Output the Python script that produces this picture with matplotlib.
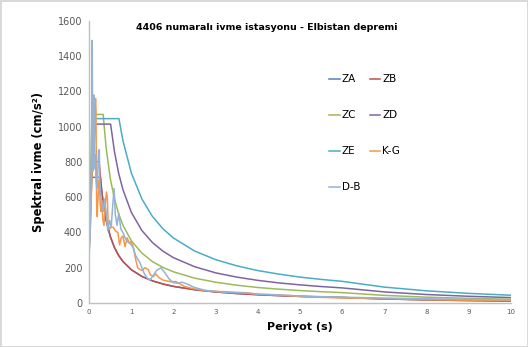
import matplotlib
matplotlib.use("Agg")
import matplotlib.pyplot as plt

# Design spectra (periods in s, spectral acceleration in cm/s^2)
za_T = [0.0, 0.053, 0.264, 0.3, 0.35, 0.4, 0.5, 0.6, 0.7, 0.8, 1.0, 1.25, 1.5, 1.75, 2.0, 2.5, 3.0, 3.5, 4.0, 4.5, 5.0, 5.5, 6.0, 7.0, 8.0, 9.0, 10.0]
za_v = [285, 713, 713, 628, 538, 471, 377, 314, 269, 235.5, 188.4, 150.7, 125.6, 107.7, 94.2, 75.4, 62.8, 53.8, 47.1, 41.9, 37.7, 34.3, 31.4, 23.1, 17.7, 13.95, 11.3]

zb_T = [0.0, 0.047, 0.235, 0.3, 0.35, 0.4, 0.5, 0.6, 0.7, 0.8, 1.0, 1.25, 1.5, 1.75, 2.0, 2.5, 3.0, 3.5, 4.0, 4.5, 5.0, 5.5, 6.0, 7.0, 8.0, 9.0, 10.0]
zb_v = [321, 802, 802, 628, 538, 471, 377, 314, 269, 235.5, 188.4, 150.7, 125.6, 107.7, 94.2, 75.4, 62.8, 53.8, 47.1, 41.9, 37.7, 34.3, 31.4, 23.1, 17.7, 13.95, 11.3]

zc_T = [0.0, 0.066, 0.33, 0.4, 0.5, 0.6, 0.7, 0.8, 1.0, 1.25, 1.5, 1.75, 2.0, 2.5, 3.0, 3.5, 4.0, 4.5, 5.0, 5.5, 6.0, 7.0, 8.0, 9.0, 10.0]
zc_v = [428, 1070, 1070, 883, 706, 589, 505, 441, 353, 283, 235, 202, 177, 141, 118, 101, 88, 78.5, 70.6, 64.2, 58.9, 43.3, 33.1, 26.2, 21.2]

zd_T = [0.0, 0.101, 0.507, 0.6, 0.7, 0.8, 1.0, 1.25, 1.5, 1.75, 2.0, 2.5, 3.0, 3.5, 4.0, 4.5, 5.0, 5.5, 6.0, 7.0, 8.0, 9.0, 10.0]
zd_v = [406, 1015, 1015, 857, 734, 643, 514, 411, 343, 294, 257, 206, 171, 147, 128.5, 114, 103, 93.5, 85.7, 62.9, 48.2, 38.1, 30.8]

ze_T = [0.0, 0.141, 0.705, 0.8, 1.0, 1.25, 1.5, 1.75, 2.0, 2.5, 3.0, 3.5, 4.0, 4.5, 5.0, 5.5, 6.0, 7.0, 8.0, 9.0, 10.0]
ze_v = [418, 1046, 1046, 921, 737, 590, 491, 421, 368.5, 295, 246, 211, 184, 164, 147, 134, 123, 90.2, 69.1, 54.6, 44.2]

# Recorded spectra
kg_T = [0.00, 0.02, 0.04, 0.06, 0.08, 0.10, 0.12, 0.14, 0.15, 0.16, 0.17, 0.18, 0.19, 0.20, 0.22, 0.24, 0.26, 0.28, 0.30, 0.32, 0.35, 0.38, 0.41, 0.43, 0.45, 0.48, 0.52, 0.57, 0.62, 0.68, 0.72, 0.76, 0.80, 0.85, 0.90, 0.95, 1.00, 1.05, 1.10, 1.15, 1.20, 1.25, 1.32, 1.40, 1.45, 1.52, 1.58, 1.65, 1.75, 1.85, 1.95, 2.05, 2.15, 2.25, 2.35, 2.5, 2.75, 3.0, 3.25, 3.5, 3.75, 4.0, 4.25, 4.5, 4.75, 5.0, 5.5, 6.0, 7.0, 8.0, 9.0, 10.0]
kg_v = [340, 380, 520, 700, 800, 820, 900, 1120, 1160, 1100, 700, 520, 490, 560, 640, 700, 560, 520, 580, 480, 440, 560, 630, 590, 440, 420, 430, 430, 410, 400, 330, 370, 380, 320, 370, 340, 350, 310, 250, 200, 190, 185, 200, 190, 160, 150, 165, 145, 130, 125, 120, 122, 110, 95, 88, 80, 70, 66, 64, 60, 58, 50, 48, 46, 42, 36, 32, 29, 24, 19, 16, 14]

db_T = [0.00, 0.02, 0.04, 0.06, 0.07, 0.08, 0.09, 0.10, 0.11, 0.12, 0.13, 0.14, 0.15, 0.16, 0.18, 0.20, 0.22, 0.24, 0.25, 0.27, 0.30, 0.33, 0.36, 0.40, 0.44, 0.48, 0.52, 0.56, 0.59, 0.62, 0.66, 0.70, 0.75, 0.80, 0.85, 0.90, 0.95, 1.00, 1.05, 1.10, 1.20, 1.30, 1.38, 1.44, 1.50, 1.60, 1.70, 1.80, 1.90, 2.00, 2.10, 2.20, 2.30, 2.50, 2.75, 3.00, 3.25, 3.50, 3.75, 4.00, 4.5, 5.0, 5.5, 6.0, 7.0, 8.0, 9.0, 10.0]
db_v = [300, 380, 600, 1100, 1490, 1000, 750, 1150, 1180, 900, 820, 760, 840, 700, 650, 720, 860, 870, 700, 620, 560, 520, 590, 520, 410, 470, 430, 560, 650, 500, 440, 510, 420, 400, 370, 350, 340, 330, 310, 270, 230, 170, 140, 130, 150, 185, 200, 170, 135, 115, 112, 118, 110, 88, 72, 66, 60, 58, 56, 50, 45, 40, 36, 33, 28, 24, 21, 19]

series = [
    ("ZA", za_T, za_v, "#4F81BD"),
    ("ZB", zb_T, zb_v, "#C0504D"),
    ("ZC", zc_T, zc_v, "#9BBB59"),
    ("ZD", zd_T, zd_v, "#8064A2"),
    ("ZE", ze_T, ze_v, "#4BACC6"),
    ("K-G", kg_T, kg_v, "#F79646"),
    ("D-B", db_T, db_v, "#95B3D7"),
]

x_ticks = [0, 1, 2, 3, 4, 5, 6, 7, 8, 9, 10]
y_ticks = [0, 200, 400, 600, 800, 1000, 1200, 1400, 1600]

fig = plt.figure(figsize=(5.28, 3.47), dpi=100)
fig.patch.set_facecolor("white")
fig.patch.set_edgecolor("#D9D9D9")
fig.patch.set_linewidth(1.0)
ax = fig.add_axes([0.169, 0.1268, 0.798, 0.8127])

handles = {}
for name, T, v, c in series:
    handles[name], = ax.plot(T, v, color=c, lw=1.1, label=name)

ax.set_xlim(0, 10)
ax.set_ylim(0, 1600)
ax.set_xticks(x_ticks)
ax.set_yticks(y_ticks)
ax.tick_params(axis="x", labelsize=5, colors="#595959", length=0, pad=4)
ax.tick_params(axis="y", labelsize=7, colors="#595959", length=0, pad=5)
for s in ["top", "right"]:
    ax.spines[s].set_visible(False)
for s in ["left", "bottom"]:
    ax.spines[s].set_color("#BFBFBF")
    ax.spines[s].set_linewidth(1.0)

ax.set_xlabel("Periyot (s)", fontsize=8, fontweight="bold", labelpad=5)
ax.set_ylabel("Spektral ivme (cm/s²)", fontsize=8.3, fontweight="bold", labelpad=9)
fig.text(267/528, 1 - 27/347, "4406 numaralı ivme istasyonu - Elbistan depremi",
         ha="center", va="center", fontsize=6.8, fontweight="bold")

order = ["ZA", "ZC", "ZE", "D-B", "ZB", "ZD", "K-G"]
leg = ax.legend([handles[n] for n in order], order, ncol=2, frameon=False,
                fontsize=7.5, handlelength=1.0, handletextpad=0.2,
                columnspacing=0.9, labelspacing=2.5,
                loc="upper left", bbox_to_anchor=(320/528, 1 - 65/347),
                bbox_transform=fig.transFigure)

fig.savefig("out.png", dpi=100)
